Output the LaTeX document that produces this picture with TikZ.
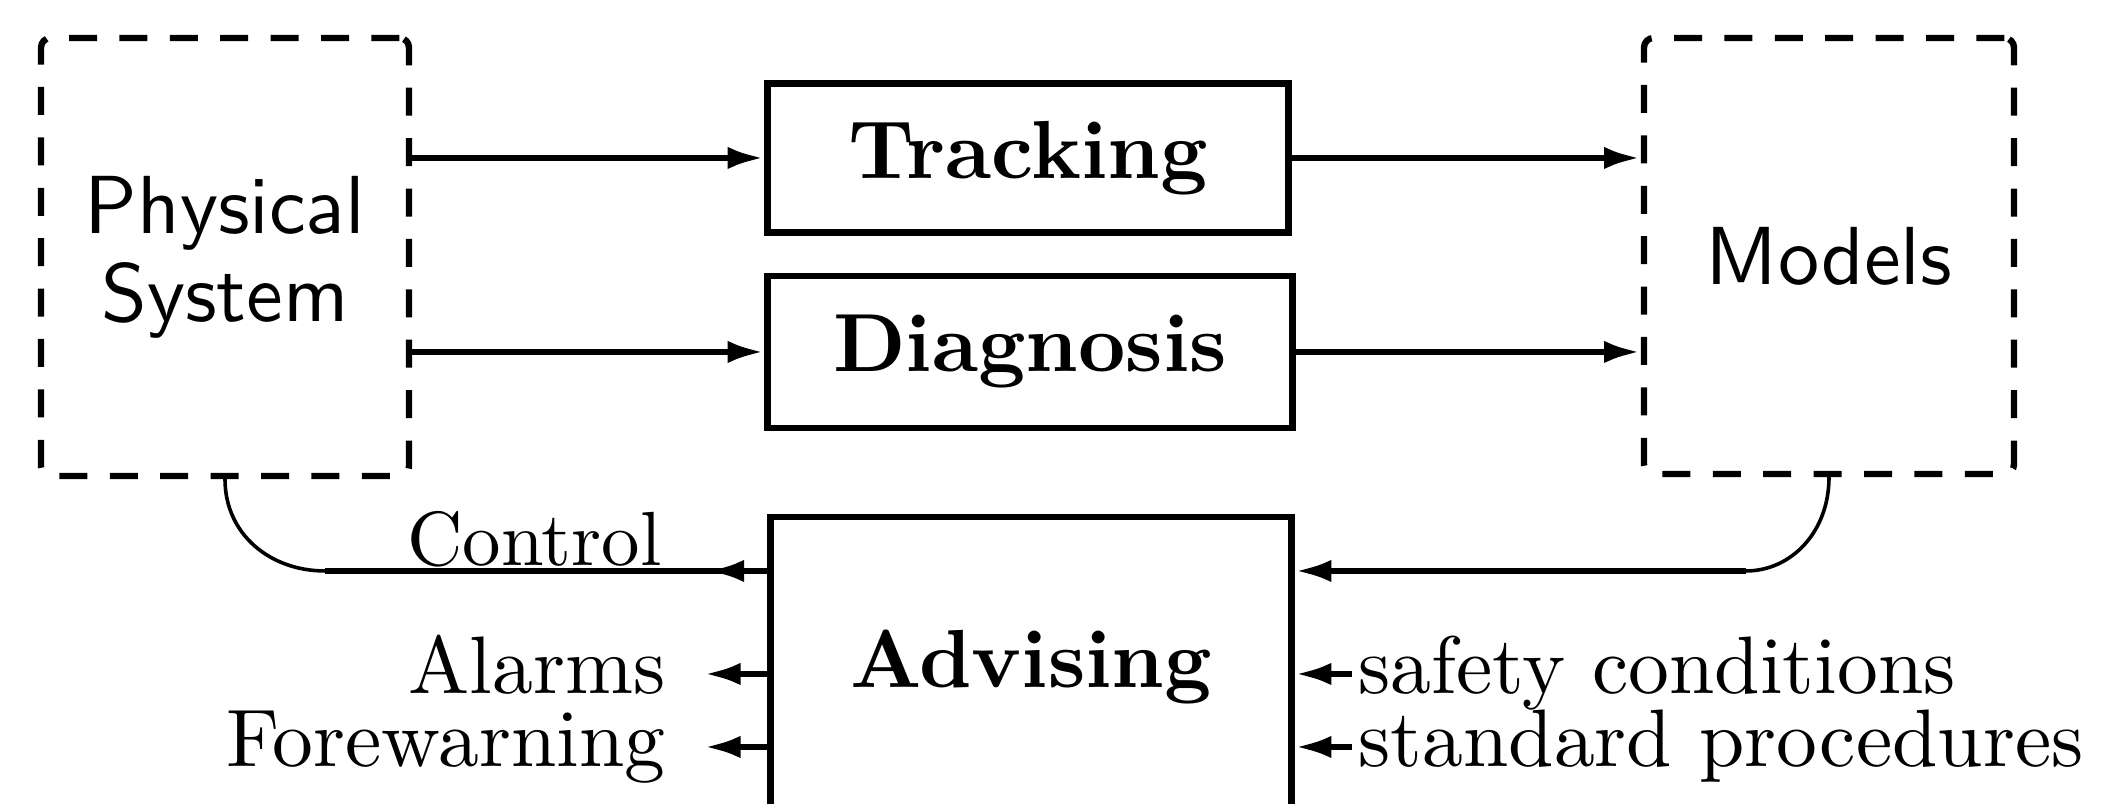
\documentclass[tikz,border=0pt]{standalone}
\usetikzlibrary{arrows.meta,calc}
\begin{document}
\begin{tikzpicture}[x=0.125pt,y=-0.125pt,
  dbox/.style={draw, line width=0.8pt, dash pattern=on 3.5pt off 2.8pt, rounded corners=1.2pt, inner sep=0pt, align=center, font=\fontsize{10.3}{11}\selectfont\sffamily},
  sbox/.style={draw, line width=0.8pt, inner sep=0pt, font=\fontsize{10.3}{12}\selectfont\bfseries},
  lab/.style={inner sep=0pt, text height=7pt, text depth=2pt, font=\fontsize{10.2}{12}\selectfont},
  arr/.style={line width=0.85pt, -{Latex[length=4.6pt,width=2.8pt]}},
  thick line/.style={line width=0.85pt},
  thin line/.style={line width=0.45pt}]
\clip (0,0) rectangle (2122,804);
% boxes
\node[dbox, minimum width=46pt, minimum height=54.75pt] (phys) at (225,257) {Physical\\System};
\node[dbox, minimum width=46.25pt, minimum height=54.5pt] (models) at (1829,256) {Models};
\node[sbox, minimum width=65.1pt, minimum height=18.6pt] (track) at (1028,158) {Tracking};
\node[sbox, minimum width=65.6pt, minimum height=19pt] (diag) at (1030,352) {Diagnosis};
\node[sbox, minimum width=65.1pt, minimum height=37.5pt] (adv) at (1031,667) {Advising};
% top arrows
\draw[arr] (phys.east |- track.west) -- (track.west);
\draw[arr] (phys.east |- diag.west) -- (diag.west);
\draw[arr] (track.east) -- (track.east -| models.west);
\draw[arr] (diag.east) -- (diag.east -| models.west);
% control loop
\coordinate (cA) at (325,571);
\coordinate (cB) at (1746,571);
\draw[thin line] (phys.south) .. controls ($(phys.south)+(0,55)$) and ($(cA)+(-55,0)$) .. (cA);
\draw[thick line] (cA) -- (adv.west |- cA);
\draw[arr] (adv.west |- cA) -- ++(-60,0);
\node[inner sep=0pt, anchor=base east, font=\fontsize{9.6}{11}\selectfont] (control) at (663,566) {Control};
% models loop
\draw[thin line] (models.south) .. controls ($(models.south)+(0,55)$) and ($(cB)+(45,0)$) .. (cB);
\draw[arr] (cB) -- (adv.east |- cB);
% outputs
\node[lab, anchor=east] (alarms) at (667,674) {Alarms};
\node[lab, anchor=east] (fore) at (667,747) {Forewarning};
\draw[arr] (adv.west |- alarms.east) -- ([xshift=4.6pt]alarms.east);
\draw[arr] (adv.west |- fore.east) -- ([xshift=4.6pt]fore.east);
% inputs
\node[lab, anchor=west] (safety) at (1357,674) {safety conditions};
\node[lab, anchor=west] (std) at (1357,747) {standard procedures};
\draw[arr] ([xshift=-0.6pt]safety.west) -- (adv.east |- safety.west);
\draw[arr] ([xshift=-0.6pt]std.west) -- (adv.east |- std.west);
\end{tikzpicture}
\end{document}
